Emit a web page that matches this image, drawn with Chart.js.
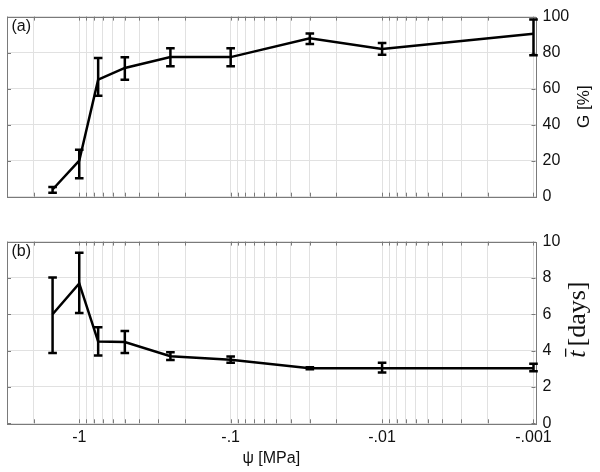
<!DOCTYPE html>
<html><head><meta charset="utf-8">
<script src="https://cdn.jsdelivr.net/npm/chart.js@4/dist/chart.umd.min.js"></script>
<style>
html,body{margin:0;padding:0;background:#fff;}
#wrap{position:relative;width:600px;height:472px;overflow:hidden;background:#fff}
canvas{position:absolute;left:0}
#ca{top:0}
#cb{top:225px}
</style></head><body>
<div id="wrap"><canvas id="ca" width="600" height="225"></canvas><canvas id="cb" width="600" height="247"></canvas></div>
<script>
// ---- data ----
const psi          = [-1.5, -1, -0.75, -0.5, -0.25, -0.1, -0.03, -0.01, -0.001];
const germination  = [4.0, 20.0, 65.0, 71.5, 77.5, 77.5, 88.0, 82.0, 90.5];
const germLow      = [2.2, 10.3, 56.0, 65.0, 72.5, 72.5, 84.8, 78.8, 78.5];
const germHigh     = [5.4, 26.0, 77.0, 77.4, 82.4, 82.4, 90.6, 85.3, 98.4];
const meanTime     = [6.0, 7.7, 4.5, 4.47, 3.69, 3.5, 3.03, 3.03, 3.03];
const timeLow      = [3.87, 6.07, 3.73, 3.87, 3.49, 3.33, 2.97, 2.79, 2.86];
const timeHigh     = [8.02, 9.38, 5.28, 5.08, 3.91, 3.67, 3.09, 3.33, 3.28];
const xTickValues  = [1, 0.1, 0.01, 0.001];
const xTickLabels  = ['-1', '-.1', '-.01', '-.001'];
const gTicks       = [0, 20, 40, 60, 80, 100];
const tTicks       = [0, 2, 4, 6, 8, 10];

// grid values for the log axis (decades and their sub-divisions)
const X_MIN = 0.00097, X_MAX = 3.0;
const xGrid = [];
for (let e = -3; e <= 0; e++) for (let m = 1; m <= 9; m++) {
  const v = m * Math.pow(10, e);
  if (v >= X_MIN && v <= X_MAX * 1.0001) xGrid.push(v);
}

const SANS = '"Liberation Sans", Arial, sans-serif';
const SERIF = '"Liberation Serif", "Times New Roman", serif';
const FRAME = '#7a7a7a';
const GRID = '#e1e1e1';
const TXT = '#111';

function xLabel(v) {
  const i = xTickValues.findIndex(t => Math.abs(t - v) / t < 1e-6);
  return i >= 0 ? xTickLabels[i] : '';
}

const deco = {
  id: 'deco',
  beforeDatasetsDraw(chart, args, o) {
    const ctx = chart.ctx, a = chart.chartArea;
    const xs = chart.scales.x, ys = chart.scales.y;
    ctx.save();
    ctx.strokeStyle = FRAME; ctx.lineWidth = 1;
    // inward tick marks
    ctx.beginPath();
    xGrid.forEach(v => {
      const px = Math.round(xs.getPixelForValue(v)) + 0.5;
      ctx.moveTo(px, a.bottom); ctx.lineTo(px, a.bottom - 4);
      ctx.moveTo(px, a.top); ctx.lineTo(px, a.top + 4);
    });
    o.yTicks.forEach(v => {
      const py = Math.round(ys.getPixelForValue(v)) + 0.5;
      ctx.moveTo(a.left, py); ctx.lineTo(a.left + 4, py);
      ctx.moveTo(a.right, py); ctx.lineTo(a.right - 4, py);
    });
    ctx.stroke();
    // frame
    ctx.strokeRect(Math.round(a.left) + 0.5, Math.round(a.top) + 0.5,
      Math.round(a.right - a.left), Math.round(a.bottom - a.top));
    ctx.restore();
  },
  afterDatasetsDraw(chart, args, o) {
    const ctx = chart.ctx;
    const xs = chart.scales.x, ys = chart.scales.y;
    ctx.save();
    ctx.strokeStyle = '#000'; ctx.lineWidth = 2.5; ctx.lineCap = 'butt';
    psi.forEach((p, i) => {
      const px = xs.getPixelForValue(-p);
      const y1 = ys.getPixelForValue(o.low[i]);
      const y2 = ys.getPixelForValue(o.high[i]);
      const hw = 4.3;
      ctx.beginPath();
      ctx.moveTo(px, y1); ctx.lineTo(px, y2);
      ctx.moveTo(px - hw, y1); ctx.lineTo(px + hw, y1);
      ctx.moveTo(px - hw, y2); ctx.lineTo(px + hw, y2);
      ctx.stroke();
    });
    ctx.restore();
  },
  afterDraw(chart, args, o) {
    const ctx = chart.ctx, a = chart.chartArea;
    ctx.save();
    ctx.fillStyle = TXT;
    // panel letter
    ctx.font = '16px ' + SANS;
    ctx.textAlign = 'left'; ctx.textBaseline = 'alphabetic';
    ctx.fillText(o.letter, a.left + 4.5, a.top + 14.3);
    // right-side axis title, reading upwards
    const cy = (a.top + a.bottom) / 2 + o.titleDy;
    ctx.translate(o.titleX, cy);
    ctx.rotate(-Math.PI / 2);
    if (o.kind === 'G') {
      ctx.font = '17px ' + SANS;
      ctx.textAlign = 'center'; ctx.textBaseline = 'middle';
      ctx.fillText('G [%]', 0, 0);
    } else {
      const fi = 'italic 26px ' + SERIF, fr = '26px ' + SERIF;
      ctx.font = fi; const wT = ctx.measureText('t').width;
      ctx.font = fr; const wD = ctx.measureText('[days]').width;
      const gap = 4;
      const total = wT + gap + wD;
      const x0 = -total / 2, b = 7.5;
      ctx.textAlign = 'left'; ctx.textBaseline = 'alphabetic';
      ctx.font = fi; ctx.fillText('t', x0, b);
      ctx.font = fr; ctx.fillText('[days]', x0 + wT + gap, b);
      ctx.fillRect(x0 + 1, b - 19.5, wT + 1, 1.3);
    }
    ctx.restore();
  }
};

function makeChart(id, vals, low, high, yMax, yStep, yTicks, letter, kind, opts) {
  return new Chart(document.getElementById(id), {
    type: 'line',
    data: {
      datasets: [{
        data: psi.map((p, i) => ({ x: -p, y: vals[i] })),
        borderColor: '#000', borderWidth: 2.5, pointRadius: 0,
        tension: 0, fill: false, clip: false
      }]
    },
    options: {
      responsive: false, animation: false, devicePixelRatio: 1,
      layout: { padding: { left: 7, right: 0, top: opts.padTop, bottom: 0 } },
      plugins: {
        legend: { display: false }, tooltip: { enabled: false },
        deco: { low, high, letter, kind, yTicks, titleX: opts.titleX, titleDy: opts.titleDy }
      },
      scales: {
        x: {
          type: 'logarithmic', reverse: true, min: X_MIN, max: X_MAX,
          afterBuildTicks: s => { s.ticks = xGrid.map(v => ({ value: v })); },
          afterFit: s => { s.height = opts.xHeight; },
          grid: { color: GRID, lineWidth: 1, drawTicks: false },
          border: { display: false },
          ticks: {
            display: opts.showX, autoSkip: false, maxRotation: 0, minRotation: 0,
            padding: 4.5, color: TXT, font: { family: SANS, size: 16 },
            callback: v => xLabel(v)
          },
          title: {
            display: opts.showX, text: 'ψ [MPa]', color: TXT,
            font: { family: SANS, size: 16 }, padding: { top: 0, bottom: 4 }
          }
        },
        y: {
          position: 'right', min: 0, max: yMax,
          afterFit: s => { s.width = 64.5; },
          grid: { color: GRID, lineWidth: 1, drawTicks: false },
          border: { display: false },
          ticks: {
            stepSize: yStep, padding: 7, color: TXT,
            font: { family: SANS, size: 16 }
          }
        }
      }
    },
    plugins: [deco]
  });
}

makeChart('ca', germination, germLow, germHigh, 100, 20, gTicks, '(a)', 'G',
  { padTop: 12.7, xHeight: 28.3, showX: false, titleX: 584, titleDy: 0 });
makeChart('cb', meanTime, timeLow, timeHigh, 10, 2, tTicks, '(b)', 'T',
  { padTop: 13.3, xHeight: 48.7, showX: true, titleX: 577, titleDy: -12.8 });
</script>
</body></html>
